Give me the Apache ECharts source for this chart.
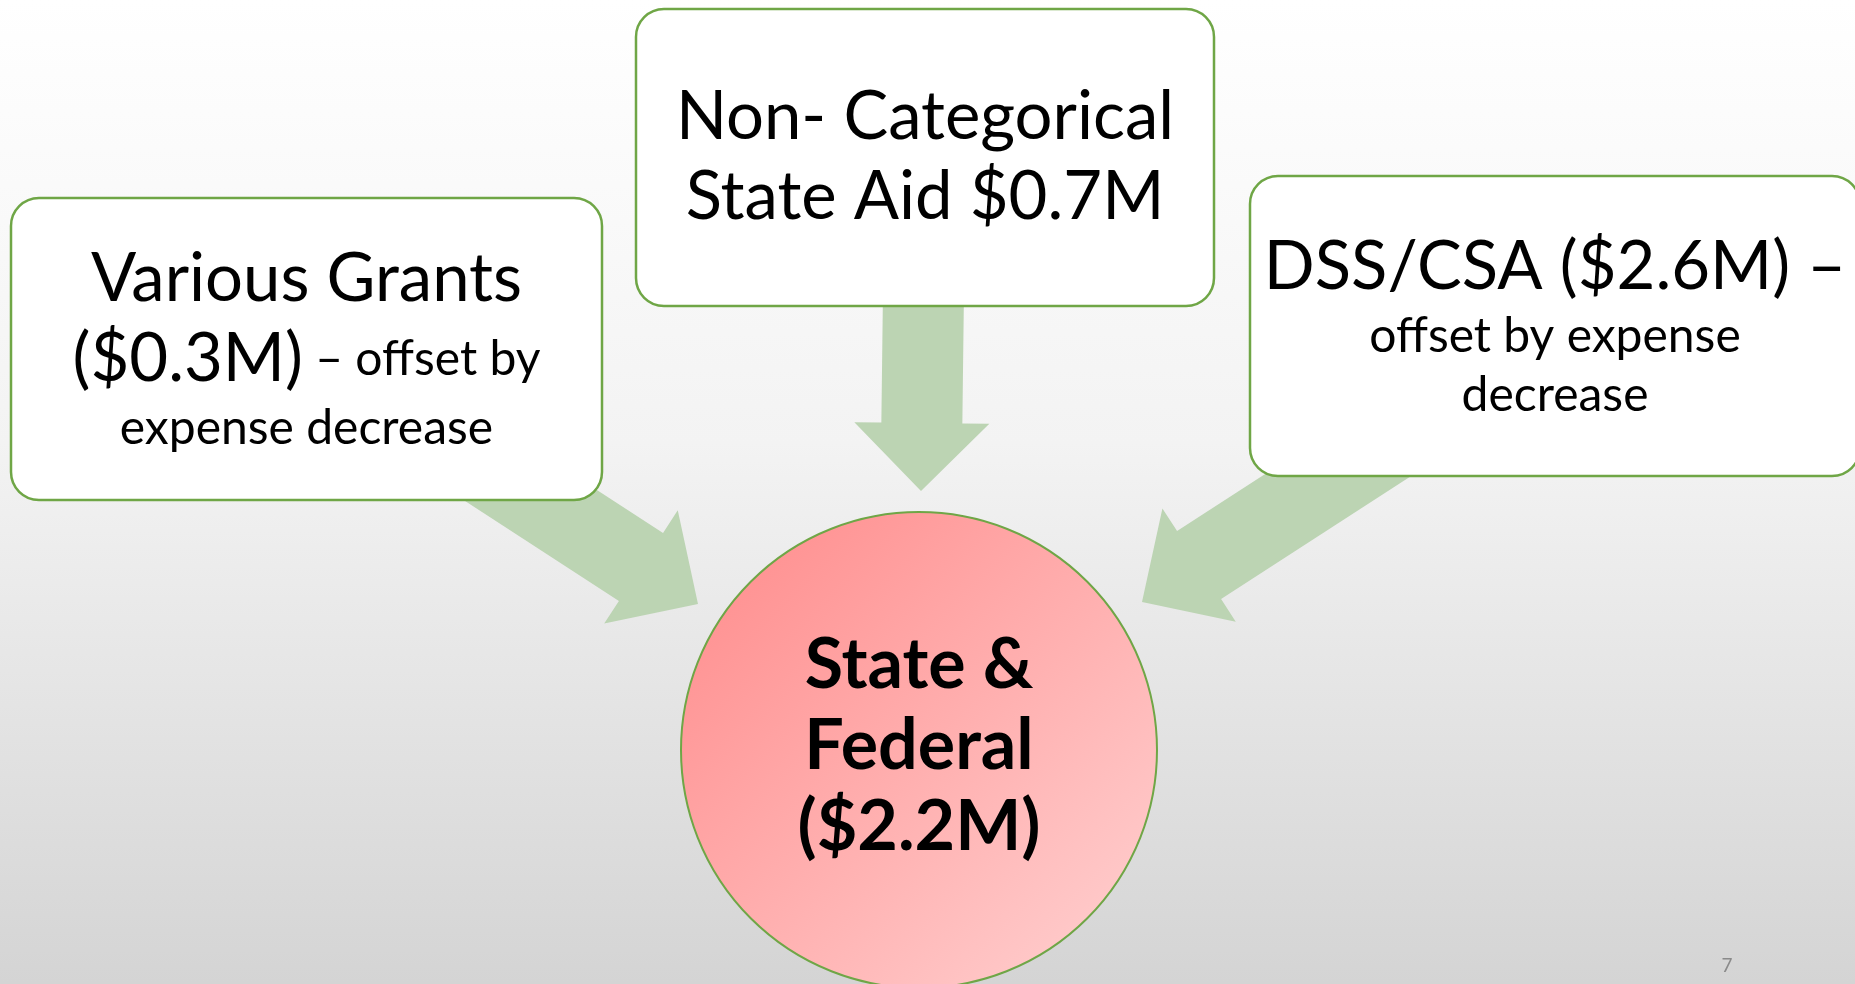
<!DOCTYPE html>
<html>
<head>
<meta charset="utf-8">
<script src="https://cdn.jsdelivr.net/npm/echarts@6/dist/echarts.min.js"></script>
<style>
  html, body { margin: 0; padding: 0; }
  #main { width: 1855px; height: 984px; }
</style>
</head>
<body>
<div id="main"></div>
<script>
// diagram content
var sources = ['Various Grants', 'Non- Categorical', 'DSS/CSA'];
var amounts = [0.3, 0.7, 2.6];            // $M
var notes = ['offset by expense decrease', '', 'offset by expense decrease'];
var target = ['State &', 'Federal'];
var targetAmount = 2.2;                   // $M
var pageNo = '7';

function money(v) { return '$' + v.toFixed(1) + 'M'; }

// layout (px)
var boxes = [
  { x: 11, y: 198, w: 591, h: 302 },
  { x: 636, y: 9, w: 578, h: 297 },
  { x: 1250, y: 176, w: 610, h: 300 }
];
var circ = { cx: 919, cy: 750, r: 238 };
var arrowsLayout = [
  { tail: [421, 424], tip: [698, 604] },
  { tail: [924, 250], tip: [921, 491] },
  { tail: [1417, 424], tip: [1142, 602] }
];
var shaftW = 81, headW = 135, headL = 68;

var green = '#6fa646';
var arrowColor = '#bcd4b3';
var font = 'Lato, "Noto Sans", sans-serif';

function arrowPoints(tail, tip) {
    var dx = tip[0] - tail[0], dy = tip[1] - tail[1];
    var len = Math.sqrt(dx * dx + dy * dy);
    var ux = dx / len, uy = dy / len, px = -uy, py = ux;
    var bx = tip[0] - ux * headL, by = tip[1] - uy * headL;
    function pt(x, y, o) { return [x + px * o, y + py * o]; }
    return [
        pt(tail[0], tail[1], shaftW / 2), pt(bx, by, shaftW / 2), pt(bx, by, headW / 2),
        tip,
        pt(bx, by, -headW / 2), pt(bx, by, -shaftW / 2), pt(tail[0], tail[1], -shaftW / 2)
    ];
}

// text for each box
var boxTexts = [
    '{b|' + sources[0] + '}\n{b|(' + money(amounts[0]) + ')}{s| – offset by}\n{s|expense decrease}',
    '{b|' + sources[1] + '}\n{b|State Aid ' + money(amounts[1]) + '}',
    '{b|' + sources[2] + ' (' + money(amounts[2]) + ') –}\n{s|offset by expense}\n{s|decrease}'
];
var rich = {
    b: { fontSize: 67, lineHeight: 80, fontFamily: font, color: '#000' },
    s: { fontSize: 48, lineHeight: 59, fontFamily: font, color: '#000' }
};

var elements = [];
// background
elements.push({
    type: 'rect', z: 0,
    shape: { x: 0, y: 0, width: 1855, height: 984 },
    style: {
        fill: new echarts.graphic.LinearGradient(0, 0, 0, 1, [
            { offset: 0, color: '#ffffff' },
            { offset: 0.45, color: '#f3f3f3' },
            { offset: 1, color: '#d4d4d4' }
        ])
    }
});
arrowsLayout.forEach(function (a) {
    elements.push({
        type: 'polygon', z: 1,
        shape: { points: arrowPoints(a.tail, a.tip) },
        style: { fill: arrowColor }
    });
});
boxes.forEach(function (b, i) {
    elements.push({
        type: 'rect', z: 2,
        shape: { x: b.x, y: b.y, width: b.w, height: b.h, r: 28 },
        style: { fill: '#ffffff', stroke: green, lineWidth: 2.5 }
    });
    elements.push({
        type: 'text', z: 3,
        x: b.x + b.w / 2, y: b.y + b.h / 2,
        style: {
            text: boxTexts[i], rich: rich,
            align: 'center', verticalAlign: 'middle'
        }
    });
});
elements.push({
    type: 'circle', z: 2,
    shape: { cx: circ.cx, cy: circ.cy, r: circ.r },
    style: {
        fill: new echarts.graphic.LinearGradient(0, 0, 1, 1, [
            { offset: 0, color: '#ff8a8a' },
            { offset: 1, color: '#ffd2d2' }
        ]),
        stroke: green, lineWidth: 2
    }
});
elements.push({
    type: 'text', z: 3,
    x: circ.cx, y: circ.cy - 4,
    style: {
        text: target.join('\n') + '\n(' + money(targetAmount) + ')',
        font: 'bold 70px ' + font,
        lineHeight: 81,
        fill: '#000',
        align: 'center', verticalAlign: 'middle'
    }
});
elements.push({
    type: 'text', z: 3,
    x: 1727, y: 966,
    style: { text: pageNo, font: '19px ' + font, fill: '#8a8a8a', align: 'center', verticalAlign: 'middle' }
});

var myChart = echarts.init(document.getElementById('main'));
myChart.setOption({
    animation: false,
    graphic: { elements: elements }
});
window.addEventListener('resize', function () {
    myChart.resize();
});
</script>
</body>
</html>
